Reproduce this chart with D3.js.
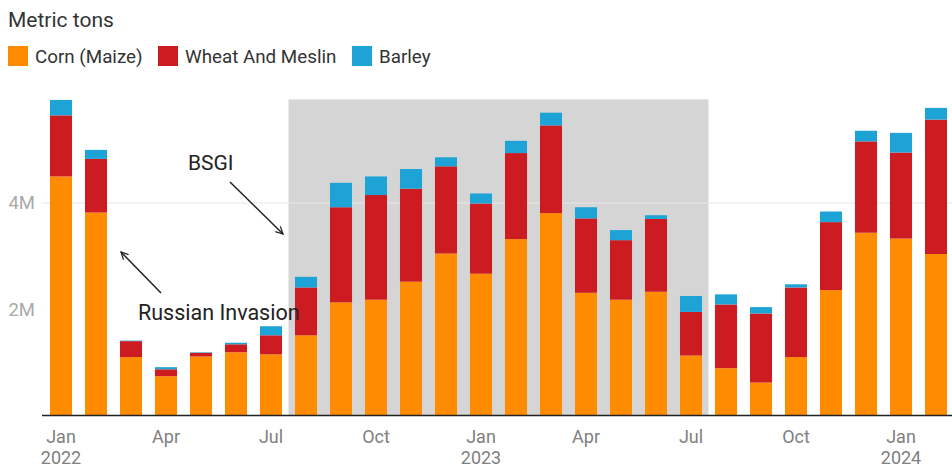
<!DOCTYPE html>
<html>
<head>
<meta charset="utf-8">
<script src="https://cdn.jsdelivr.net/npm/d3@7"></script>
<style>
  html, body { margin: 0; padding: 0; background: #fff; }
  svg { display: block; font-family: Roboto, "Noto Sans", sans-serif; }
</style>
</head>
<body>
<svg id="chart" width="952" height="468"></svg>
<script>
// ---- Data (metric tons, millions) ----
const months = ["2022-01","2022-02","2022-03","2022-04","2022-05","2022-06","2022-07","2022-08","2022-09","2022-10","2022-11","2022-12",
                "2023-01","2023-02","2023-03","2023-04","2023-05","2023-06","2023-07","2023-08","2023-09","2023-10","2023-11","2023-12",
                "2024-01","2024-02"];
const corn   = [4.50,3.82,1.10,0.74,1.11,1.19,1.15,1.51,2.13,2.18,2.52,3.05,2.67,3.32,3.81,2.31,2.18,2.33,1.13,0.89,0.62,1.10,2.36,3.44,3.33,3.04];
const wheat  = [1.15,1.01,0.30,0.13,0.07,0.15,0.36,0.90,1.79,1.97,1.75,1.64,1.32,1.62,1.65,1.40,1.12,1.37,0.82,1.20,1.30,1.31,1.28,1.72,1.62,2.53];
const barley = [0.29,0.17,0.01,0.04,0.01,0.03,0.17,0.20,0.46,0.35,0.37,0.17,0.19,0.23,0.24,0.21,0.19,0.07,0.30,0.19,0.12,0.06,0.20,0.20,0.37,0.22];
const seriesNames = ["Corn (Maize)", "Wheat And Meslin", "Barley"];
const seriesKeys  = ["corn", "wheat", "barley"];
const colors      = ["#ff8c00", "#cc1b21", "#1ea3d6"];
const yTicks      = [2, 4];
const xTickLabels = [
  {m:"2022-01", a:"Jan", b:"2022"}, {m:"2022-04", a:"Apr", b:""}, {m:"2022-07", a:"Jul", b:""}, {m:"2022-10", a:"Oct", b:""},
  {m:"2023-01", a:"Jan", b:"2023"}, {m:"2023-04", a:"Apr", b:""}, {m:"2023-07", a:"Jul", b:""}, {m:"2023-10", a:"Oct", b:""},
  {m:"2024-01", a:"Jan", b:"2024"}
];
const shadeRange = ["2022-08", "2023-07"];
const shadeTop = 5.95;

const rows = months.map((m, i) => ({month: m, corn: corn[i], wheat: wheat[i], barley: barley[i]}));

const svg = d3.select("#chart");
const baseY = 415.5, topY = 203; // 0 -> baseY, 4M -> topY
const y = d3.scaleLinear().domain([0, 4]).range([baseY, topY]);
const pad = 0.37;
const x = d3.scaleBand().domain(months).range([43.5, 953.5]).paddingInner(pad).paddingOuter(pad / 2);

// shaded BSGI period
const gap = x.step() * pad / 2;
svg.append("rect")
  .attr("x", x(shadeRange[0]) - gap)
  .attr("y", y(shadeTop))
  .attr("width", x(shadeRange[1]) + x.bandwidth() + gap - (x(shadeRange[0]) - gap))
  .attr("height", y(0) - y(shadeTop))
  .attr("fill", "#d5d5d5");

// gridlines
svg.append("g").selectAll("line").data(yTicks.filter(d => d === 4)).join("line")
  .attr("x1", 42).attr("x2", 952)
  .attr("y1", d => y(d)).attr("y2", d => y(d))
  .attr("stroke", "#e6e6e6").attr("stroke-width", 1);

// y labels
svg.append("g").selectAll("text").data(yTicks).join("text")
  .attr("x", 35).attr("y", d => y(d)).attr("dy", "0.35em")
  .attr("text-anchor", "end")
  .attr("font-size", 18.5).attr("fill", "#a8a8a8")
  .text(d => d + "M");

// stacked bars
const stack = d3.stack().keys(seriesKeys)(rows);
svg.append("g").selectAll("g").data(stack).join("g")
  .attr("fill", (d, i) => colors[i])
  .selectAll("rect").data(d => d).join("rect")
  .attr("x", d => x(d.data.month))
  .attr("width", x.bandwidth())
  .attr("y", d => y(d[1]))
  .attr("height", d => Math.max(0, y(d[0]) - y(d[1])));

// x axis line
svg.append("line").attr("x1", 42).attr("x2", 952).attr("y1", baseY).attr("y2", baseY)
  .attr("stroke", "#222").attr("stroke-width", 1.5);

// x labels
const xl = svg.append("g").selectAll("g").data(xTickLabels).join("g")
  .attr("transform", d => `translate(${x(d.m) + x.bandwidth() / 2},0)`);
xl.append("text").attr("y", 443).attr("text-anchor", "middle").attr("font-size", 18).attr("fill", "#808080").text(d => d.a);
xl.append("text").attr("y", 464).attr("text-anchor", "middle").attr("font-size", 18).attr("fill", "#808080").text(d => d.b);

// title
svg.append("text").attr("x", 8).attr("y", 27).attr("font-size", 21).attr("fill", "#333").text("Metric tons");

// legend
const legendX = [8, 158, 352];
const lg = svg.append("g").selectAll("g").data(seriesNames).join("g")
  .attr("transform", (d, i) => `translate(${legendX[i]},46)`);
lg.append("rect").attr("width", 20).attr("height", 20).attr("fill", (d, i) => colors[i]);
lg.append("text").attr("x", 27).attr("y", 17).attr("font-size", 18.8).attr("fill", "#333").text(d => d);

// arrow marker
const defs = svg.append("defs");
defs.append("marker").attr("id", "arr").attr("viewBox", "0 0 10 10").attr("refX", 9).attr("refY", 5)
  .attr("markerWidth", 9).attr("markerHeight", 9).attr("orient", "auto-start-reverse")
  .attr("markerUnits", "userSpaceOnUse")
  .append("path").attr("d", "M1,1 L9,5 L1,9").attr("fill", "none").attr("stroke", "#222").attr("stroke-width", 1.4);

// annotations
svg.append("line").attr("x1", 230).attr("y1", 182).attr("x2", 283).attr("y2", 234)
  .attr("stroke", "#222").attr("stroke-width", 1.5).attr("marker-end", "url(#arr)");
svg.append("text").attr("x", 188).attr("y", 170).attr("font-size", 21).attr("fill", "#222").text("BSGI");

svg.append("line").attr("x1", 161).attr("y1", 293).attr("x2", 121).attr("y2", 252)
  .attr("stroke", "#222").attr("stroke-width", 1.5).attr("marker-end", "url(#arr)");
svg.append("text").attr("x", 138).attr("y", 320).attr("font-size", 21.5).attr("fill", "#222").text("Russian Invasion");
</script>
</body>
</html>
